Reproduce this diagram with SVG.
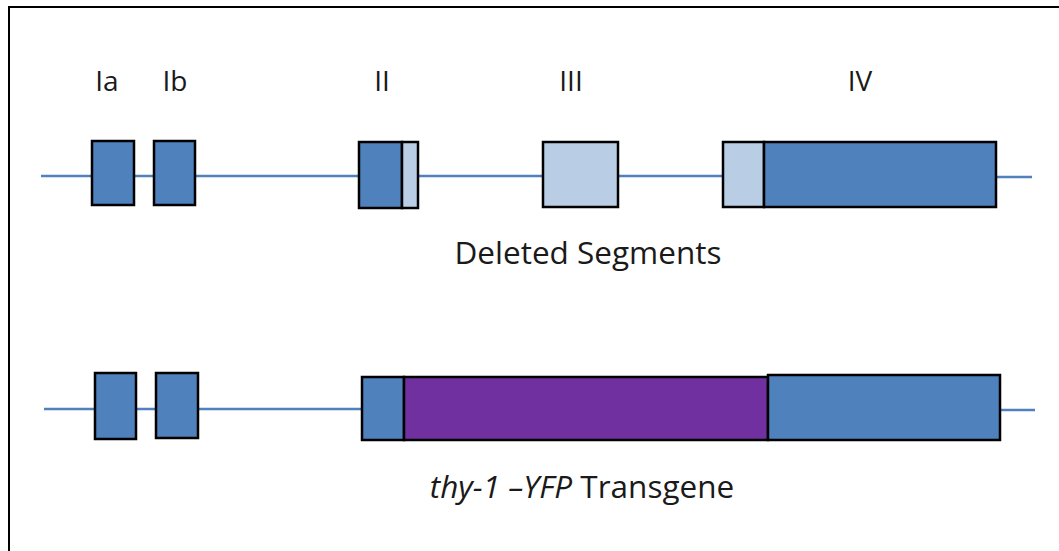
<svg xmlns="http://www.w3.org/2000/svg" width="1059" height="551" viewBox="0 0 1059 551">
<style>
.t{font-family:"Open Sans","Liberation Sans",sans-serif;fill:#1a1a1a;text-anchor:middle}
.lbl{font-size:28px}
.cap{font-size:31.5px}
.dk{fill:#4F81BD;stroke:#000;stroke-width:2.5}
.lt{fill:#B9CDE5;stroke:#000;stroke-width:2.5}
.pu{fill:#7030A0;stroke:#000;stroke-width:2.5}
.ln{stroke:#4F81BD;stroke-width:2.5;fill:none}
</style>
<rect x="9" y="7" width="1070" height="560" fill="#fff" stroke="#000" stroke-width="2"/>
<g id="connectors">
<line class="ln" x1="41" y1="176" x2="723" y2="176"/>
<line class="ln" x1="996" y1="177" x2="1032" y2="177"/>
<line class="ln" x1="44" y1="409" x2="362" y2="409"/>
<line class="ln" x1="1000" y1="410" x2="1035" y2="410"/>
</g>
<g id="labels">
<text class="t lbl" x="107" y="91">Ia</text>
<text class="t lbl" x="175" y="91">Ib</text>
<text class="t lbl" x="382" y="91">II</text>
<text class="t lbl" x="571" y="91">III</text>
<text class="t lbl" x="860" y="91">IV</text>
</g>
<g id="exonIa"><rect class="dk" x="92" y="141" width="42" height="64"/></g>
<g id="exonIb"><rect class="dk" x="154" y="141" width="41" height="64"/></g>
<g id="exonII"><rect class="dk" x="359" y="142" width="43" height="66"/><rect class="lt" x="402" y="142" width="16" height="66"/></g>
<g id="exonIII"><rect class="lt" x="543" y="142" width="75" height="65"/></g>
<g id="exonIV"><rect class="lt" x="723" y="142" width="41" height="65"/><rect class="dk" x="764" y="142" width="232" height="65"/></g>
<g id="caption1"><text class="t cap" x="588" y="264">Deleted Segments</text></g>
<g id="tgIa"><rect class="dk" x="95" y="373" width="41" height="66"/></g>
<g id="tgIb"><rect class="dk" x="156" y="373" width="42" height="65"/></g>
<g id="transgene"><rect class="dk" x="362" y="377" width="42" height="63"/><rect class="pu" x="404" y="377" width="364" height="63"/><rect class="dk" x="768" y="375" width="232" height="65"/></g>
<g id="caption2"><text class="t cap" x="582" y="498"><tspan font-style="italic">thy-1 –YFP</tspan> Transgene</text></g>
</svg>
